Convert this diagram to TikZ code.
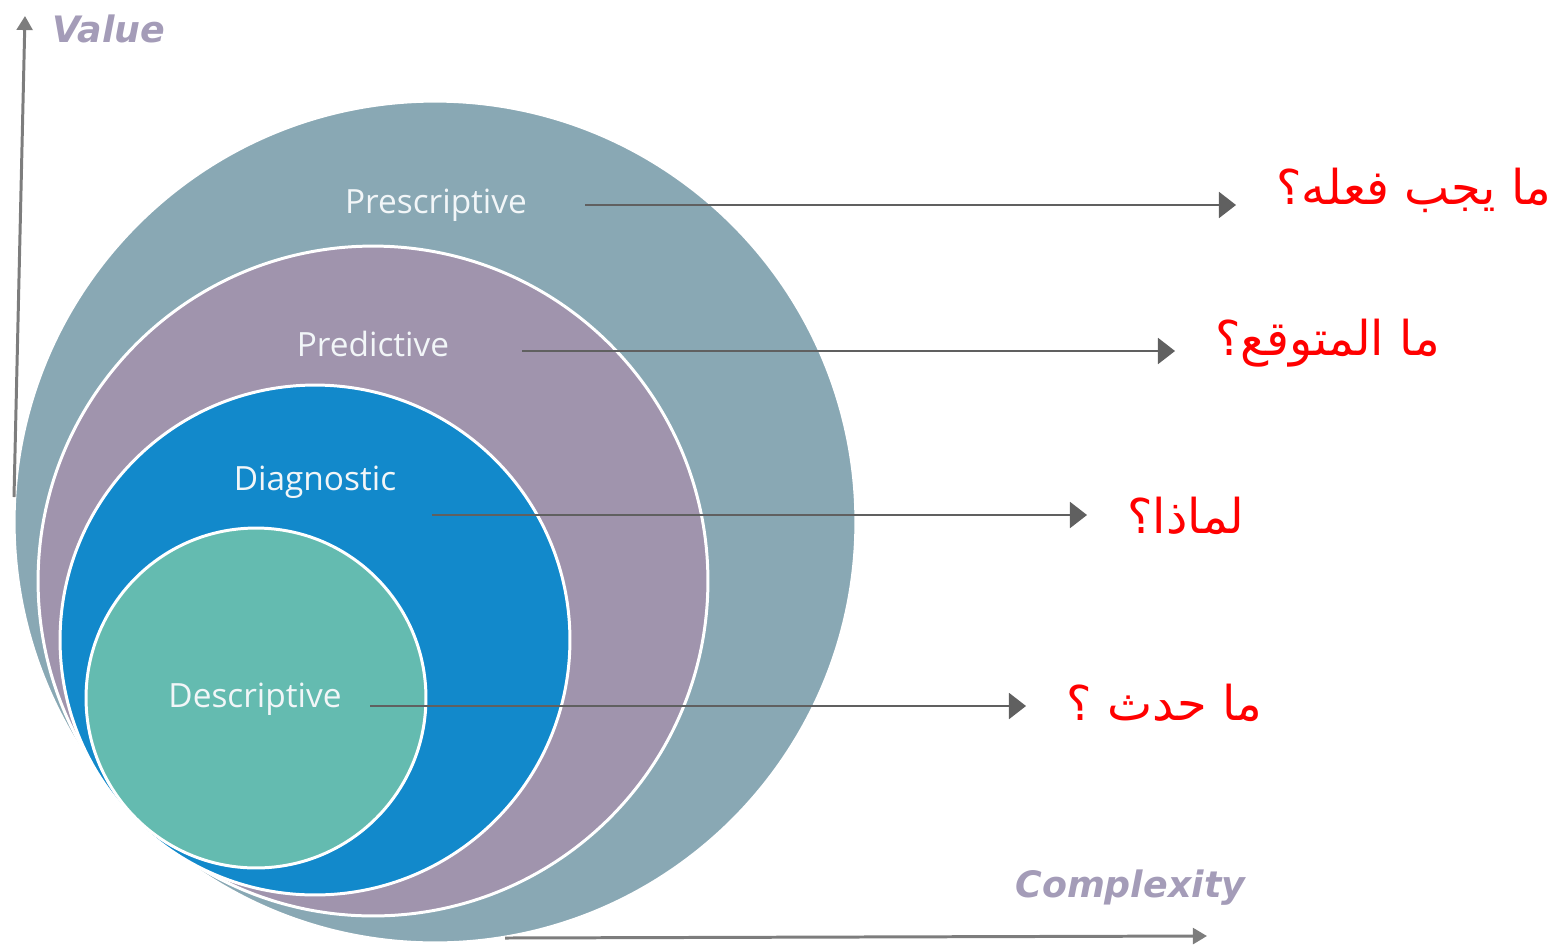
\documentclass[tikz,border=0pt]{standalone}
\usepackage{fontspec}
\setmainfont{Open Sans}
\newfontfamily\arabicfont[Script=Arabic]{DejaVu Sans}
\newfontfamily\axisfont{DejaVu Sans}
\TeXXeTstate=1
\usepackage{tikz}
\usetikzlibrary{arrows.meta,positioning}
\usepackage{xcolor}
\definecolor{presc}{RGB}{137,168,180}
\definecolor{predi}{RGB}{160,148,173}
\definecolor{diagn}{RGB}{18,137,203}
\definecolor{descr}{RGB}{100,187,176}
\definecolor{flecha}{RGB}{96,96,96}
\definecolor{ejegris}{RGB}{125,125,125}
\definecolor{ejetexto}{RGB}{164,156,184}
\definecolor{blanco}{RGB}{242,246,248}

\begin{document}
\begin{tikzpicture}[x=0.02cm, y=-0.02cm]

    \tikzstyle{capa} = [
        draw=white,
        line width=1.7pt,
    ]
    \tikzstyle{etiqueta} = [
        text=blanco,
        inner sep=0pt,
        anchor=base,
        font=\fontsize{19}{22}\selectfont,
    ]
    \tikzstyle{pregunta} = [
        text=red,
        inner sep=0pt,
        anchor=base west,
        font=\arabicfont\fontsize{27.3}{31}\selectfont,
    ]
    \tikzstyle{eje} = [
        draw=ejegris,
        line width=1.7pt,
        -{Triangle[length=8pt,width=9pt]},
    ]
    \tikzstyle{ejetit} = [
        text=ejetexto,
        inner sep=0pt,
        anchor=base west,
        font=\axisfont\bfseries\itshape\fontsize{20.7}{24}\selectfont,
    ]
    \tikzstyle{line} = [
        draw=flecha,
        line width=1.1pt,
        -{Triangle[length=9.7pt,width=14.8pt]},
        shorten >=0.8cm,
    ]

    \useasboundingbox (0,0) rectangle (1549,948);

    % circulos
    \filldraw [capa, fill=presc] (435,522) circle (8.42cm);
    \filldraw [capa, fill=predi] (373,581) circle (6.70cm);
    \filldraw [capa, fill=diagn] (315,640) circle (5.10cm);
    \filldraw [capa, fill=descr] (256,698) circle (3.40cm);

    % ejes
    \coordinate (v0) at (14,497);
    \coordinate (v1) at (25,16);
    \coordinate (h0) at (505,938);
    \coordinate (h1) at (1207,936);
    \path [eje] (v0) -- (v1);
    \path [eje] (h0) -- (h1);
    \node [ejetit] (valor) at (52,42)   {Value};
    \node [ejetit] (compl) at (1015,897) {Complexity};

    \node [etiqueta] (pre) at (436,213) {Prescriptive};
    \node [etiqueta] (pdi) at (373,356) {Predictive};
    \node [etiqueta] (dia) at (315,490) {Diagnostic};
    \node [etiqueta] (des) at (255,707) {Descriptive};

    \node [pregunta] (qpre) at (1276,204) {\beginR ما يجب فعله؟\endR};
    \node [pregunta] (qpdi) at (1215,355) {\beginR ما المتوقع؟\endR};
    \node [pregunta] (qdia) at (1127,533) {\beginR لماذا؟\endR};
    \node [pregunta] (qdes) at (1066,720) {\beginR ما حدث ؟\endR};

    \coordinate (spre) at (585,205);
    \coordinate (spdi) at (522,351);
    \coordinate (sdia) at (432,515);
    \coordinate (sdes) at (370,706);

    \path [line] (spre) -- (spre -| qpre.west);
    \path [line] (spdi) -- (spdi -| qpdi.west);
    \path [line] (sdia) -- (sdia -| qdia.west);
    \path [line] (sdes) -- (sdes -| qdes.west);

\end{tikzpicture}
\end{document}
